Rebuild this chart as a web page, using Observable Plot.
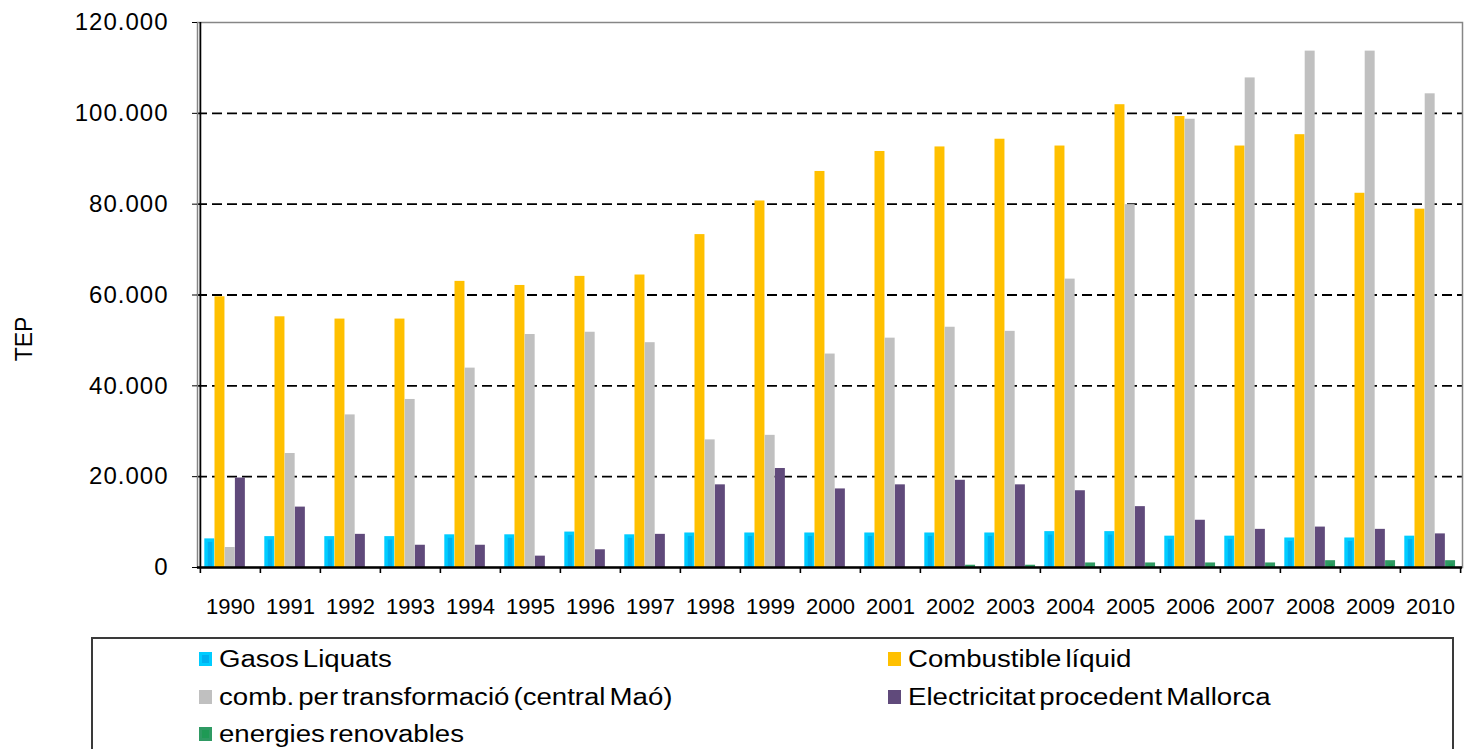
<!DOCTYPE html>
<html>
<head>
<meta charset="utf-8">
<script src="https://cdn.jsdelivr.net/npm/d3@7"></script>
<script src="https://cdn.jsdelivr.net/npm/@observablehq/plot@0.6"></script>
<style>
  html, body { margin: 0; padding: 0; background: #fff; overflow: hidden; }
  body { width: 1465px; height: 749px; position: relative; font-family: "Liberation Sans", Arial, sans-serif; }
  #chart svg { display: block; }
  #chart g[aria-label="y-axis tick label"] text { letter-spacing: 1px; }
  .ylab { position: absolute; left: 24px; top: 339px; font-size: 23px; color: #000; transform: translate(-50%, -50%) rotate(-90deg); white-space: nowrap; }
  .legend-box { position: absolute; left: 91px; top: 637px; width: 1363px; height: 140px; border: 2px solid #3a3a3a; box-sizing: border-box; }
  .item { position: absolute; height: 28px; display: flex; align-items: center; white-space: nowrap; }
  .sw { width: 13px; height: 14px; box-sizing: border-box; margin-right: 7px; flex: none; }
  .lbl { display: inline-block; font-size: 23px; color: #000; transform: scaleX(1.2); transform-origin: left center; word-spacing: -3px; }
</style>
</head>
<body>
<div id="chart"></div>
<div class="ylab" id="ylab"></div>
<div class="legend-box"></div>
<div id="legend"></div>
<script>
// ---- data ----
const years = [1990,1991,1992,1993,1994,1995,1996,1997,1998,1999,2000,2001,2002,2003,2004,2005,2006,2007,2008,2009,2010];
const seriesNames = ["Gasos Liquats", "Combustible líquid", "comb. per transformació (central Maó)", "Electricitat procedent Mallorca", "energies renovables"];
const gasosLiquats      = [6300,6800,6800,6800,7200,7200,7800,7200,7600,7600,7600,7600,7600,7600,7900,7900,6900,6900,6500,6500,6900];
const combustibleLiquid = [59600,55200,54700,54700,63000,62100,64100,64400,73300,80700,87200,91600,92600,94300,92800,101900,99300,92800,95300,82400,78900];
const combTransformacio = [4400,25100,33600,37000,43900,51300,51800,49500,28100,29100,47000,50500,52900,52000,63500,79900,98700,107800,113700,113700,104300];
const electricitatMallorca = [19700,13300,7300,4900,4900,2500,3900,7300,18200,21800,17300,18200,19200,18200,16900,13400,10400,8400,8900,8400,7400];
const energiesRenovables = [0,0,0,0,0,0,0,0,0,0,0,0,500,500,1000,1000,1000,1000,1500,1500,1500];
const yTicks = [0,20000,40000,60000,80000,100000,120000];
const gridTicks = [20000,40000,60000,80000,100000];
const yLabel = "TEP";
const seriesValues = [gasosLiquats, combustibleLiquid, combTransformacio, electricitatMallorca, energiesRenovables];
const colors = ["#00CCFF", "#FFC000", "#C0C0C0", "#604A7B", "#2F9A63"];
const innerColors = ["#00B0F0", null, null, null, "#1E9A55"];

// ---- layout ----
const W = 1465, H = 630, mL = 197, mR = 3, mT = 22, mB = 63;
const bw = (W - mL - mR) / years.length;
const pad = 4.3, barW = 10.2;

const locale = d3.formatLocale({decimal: ",", thousands: ".", grouping: [3], currency: ["", "€"]});
const fmt = locale.format(",");

const marks = [
  Plot.gridY(gridTicks, {stroke: "#000", strokeOpacity: 1, strokeWidth: 1.8, strokeDasharray: "10,5"}),
  Plot.frame({stroke: "#868686", strokeWidth: 1.5})
];
seriesValues.forEach((vals, i) => {
  const rows = years.map((y, j) => ({year: y, value: vals[j]}));
  marks.push(Plot.barY(rows, {
    x: "year", y: "value", fill: colors[i],
    insetLeft: pad + i * barW, insetRight: bw - pad - (i + 1) * barW
  }));
  if (innerColors[i]) {
    marks.push(Plot.barY(rows.filter(d => d.value > 0), {
      x: "year", y: "value", fill: innerColors[i],
      insetLeft: pad + i * barW + 3.5, insetRight: bw - pad - (i + 1) * barW + 2,
      insetTop: 3.5
    }));
  }
});
marks.push(
  Plot.ruleY([0], {stroke: "#000", strokeWidth: 2.6}),
  Plot.ruleX([years[0]], {x: d => d, dx: -bw / 2, stroke: "#000", strokeWidth: 1.8}),
  Plot.axisY({ticks: yTicks, tickSize: 5, tickPadding: 24, tickFormat: fmt, fontSize: 24, stroke: "#000", label: null}),
  Plot.axisX({ticks: years, tickSize: 0, tickPadding: 31, fontSize: 22, label: null, tickFormat: d => String(d)}),
  Plot.axisX({ticks: years, tickSize: 6, tickFormat: () => "", dx: -bw / 2, strokeWidth: 1.6, label: null}),
  Plot.axisX({ticks: [years[years.length - 1]], tickSize: 6, tickFormat: () => "", dx: bw / 2, strokeWidth: 1.6, label: null})
);

const chart = Plot.plot({
  width: W, height: H,
  marginLeft: mL, marginRight: mR, marginTop: mT, marginBottom: mB,
  style: {fontFamily: "'Liberation Sans', Arial, sans-serif", color: "#000", background: "#fff", overflow: "visible"},
  x: {type: "band", domain: years, padding: 0, axis: null},
  y: {domain: [0, 120000], axis: null},
  marks
});
document.getElementById("chart").appendChild(chart);
document.getElementById("ylab").textContent = yLabel;

// ---- legend (HTML, below the SVG) ----
const legendPos = [
  {left: 199, top: 659}, {left: 888, top: 659},
  {left: 199, top: 697}, {left: 888, top: 697},
  {left: 199, top: 734}
];
const legend = document.getElementById("legend");
seriesNames.forEach((name, i) => {
  const it = document.createElement("div");
  it.className = "item";
  it.style.left = legendPos[i].left + "px";
  it.style.top = (legendPos[i].top - 14) + "px";
  const sw = document.createElement("span");
  sw.className = "sw";
  sw.style.background = innerColors[i] || colors[i];
  if (innerColors[i]) sw.style.border = "3px solid " + colors[i];
  const lb = document.createElement("span");
  lb.className = "lbl";
  lb.textContent = name;
  it.appendChild(sw); it.appendChild(lb);
  legend.appendChild(it);
});
</script>
</body>
</html>
